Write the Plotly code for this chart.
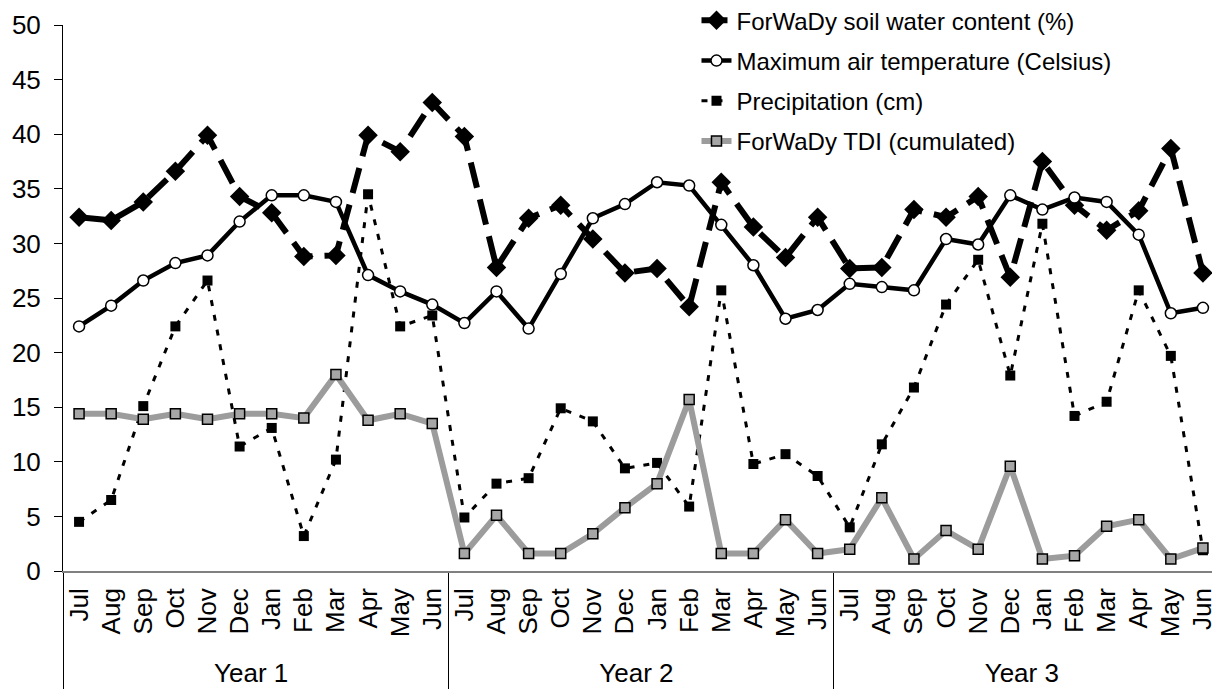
import plotly.graph_objects as go

months = ["Jul", "Aug", "Sep", "Oct", "Nov", "Dec", "Jan", "Feb", "Mar", "Apr", "May", "Jun"]
years = ["Year 1", "Year 2", "Year 3"]

soil_water = [32.4, 32.1, 33.8, 36.6, 39.9, 34.3, 32.8, 28.8, 28.9, 39.9, 38.4, 42.9,
              39.8, 27.8, 32.3, 33.5, 30.4, 27.3, 27.7, 24.2, 35.6, 31.5, 28.7, 32.4,
              27.7, 27.8, 33.1, 32.4, 34.3, 26.9, 37.5, 33.5, 31.2, 33.0, 38.7, 27.3]
max_temp = [22.4, 24.3, 26.6, 28.2, 28.9, 32.0, 34.4, 34.4, 33.8, 27.1, 25.6, 24.4,
            22.7, 25.6, 22.2, 27.2, 32.3, 33.6, 35.6, 35.3, 31.7, 28.0, 23.1, 23.9,
            26.3, 26.0, 25.7, 30.4, 29.9, 34.4, 33.1, 34.2, 33.8, 30.8, 23.6, 24.1]
precip = [4.5, 6.5, 15.1, 22.4, 26.6, 11.4, 13.1, 3.2, 10.2, 34.5, 22.4, 23.4,
          4.9, 8.0, 8.5, 14.9, 13.7, 9.4, 9.9, 5.9, 25.7, 9.8, 10.7, 8.7,
          4.0, 11.6, 16.8, 24.4, 28.5, 17.9, 31.8, 14.2, 15.5, 25.7, 19.7, 1.9]
tdi = [14.4, 14.4, 13.9, 14.4, 13.9, 14.4, 14.4, 14.0, 18.0, 13.8, 14.4, 13.5,
       1.6, 5.1, 1.6, 1.6, 3.4, 5.8, 8.0, 15.7, 1.6, 1.6, 4.7, 1.6,
       2.0, 6.7, 1.1, 3.7, 2.0, 9.6, 1.1, 1.4, 4.1, 4.7, 1.1, 2.1]

x_year = [y for y in years for _ in months]
x_month = months * len(years)
x = [x_year, x_month]

font = "Liberation Sans, Arial, sans-serif"

fig = go.Figure()
fig.add_trace(go.Scatter(
    x=x, y=soil_water, name="ForWaDy soil water content (%)", legendgroup="a",
    mode="lines+markers", line=dict(color="black", width=6, dash="26px,12px"),
    marker=dict(symbol="diamond", size=15, color="black"),
))
fig.add_trace(go.Scatter(
    x=x, y=max_temp, name="Maximum air temperature (Celsius)", legendgroup="b",
    mode="lines+markers", line=dict(color="black", width=4.5),
    marker=dict(symbol="circle", size=11, color="white", line=dict(color="black", width=1.5)),
))
fig.add_trace(go.Scatter(
    x=x, y=precip, name="Precipitation (cm)", legendgroup="c",
    mode="lines+markers", line=dict(color="black", width=3, dash="6px,9px"),
    marker=dict(symbol="square", size=10, color="black"),
))
fig.add_trace(go.Scatter(
    x=x, y=tdi, name="ForWaDy TDI (cumulated)", legendgroup="d",
    mode="lines+markers", line=dict(color="#9c9c9c", width=6),
    marker=dict(symbol="square", size=10, color="#a6a6a6", line=dict(color="black", width=1.5)),
))

# the page body has an 8px margin, so the figure is offset by 8px
fig.update_layout(
    width=1220, height=696,
    margin=dict(l=55, r=9, t=17, b=133, autoexpand=False),
    plot_bgcolor="white", paper_bgcolor="white",
    font=dict(family=font, size=24, color="black"),
    showlegend=True,
    legend=dict(x=0.548, xanchor="left", y=1.049, yanchor="top",
                font=dict(size=24), bgcolor="rgba(0,0,0,0)",
                traceorder="grouped", tracegroupgap=6),
    xaxis=dict(type="multicategory", range=[-0.5, 35.5], tickangle=-90,
               showline=True, linecolor="#808080", linewidth=1.5,
               showgrid=False, zeroline=False, ticks="", automargin=False,
               ticklabelstandoff=5,
               showdividers=True, dividercolor="black", dividerwidth=1,
               tickfont=dict(size=26)),
    yaxis=dict(range=[0, 50], dtick=5, showline=True, linecolor="black", linewidth=1,
               ticks="outside", ticklen=8, tickcolor="black", automargin=False,
               ticklabelstandoff=8,
               showgrid=False, zeroline=False, tickfont=dict(size=26)),
)

fig.write_html("out.html")
